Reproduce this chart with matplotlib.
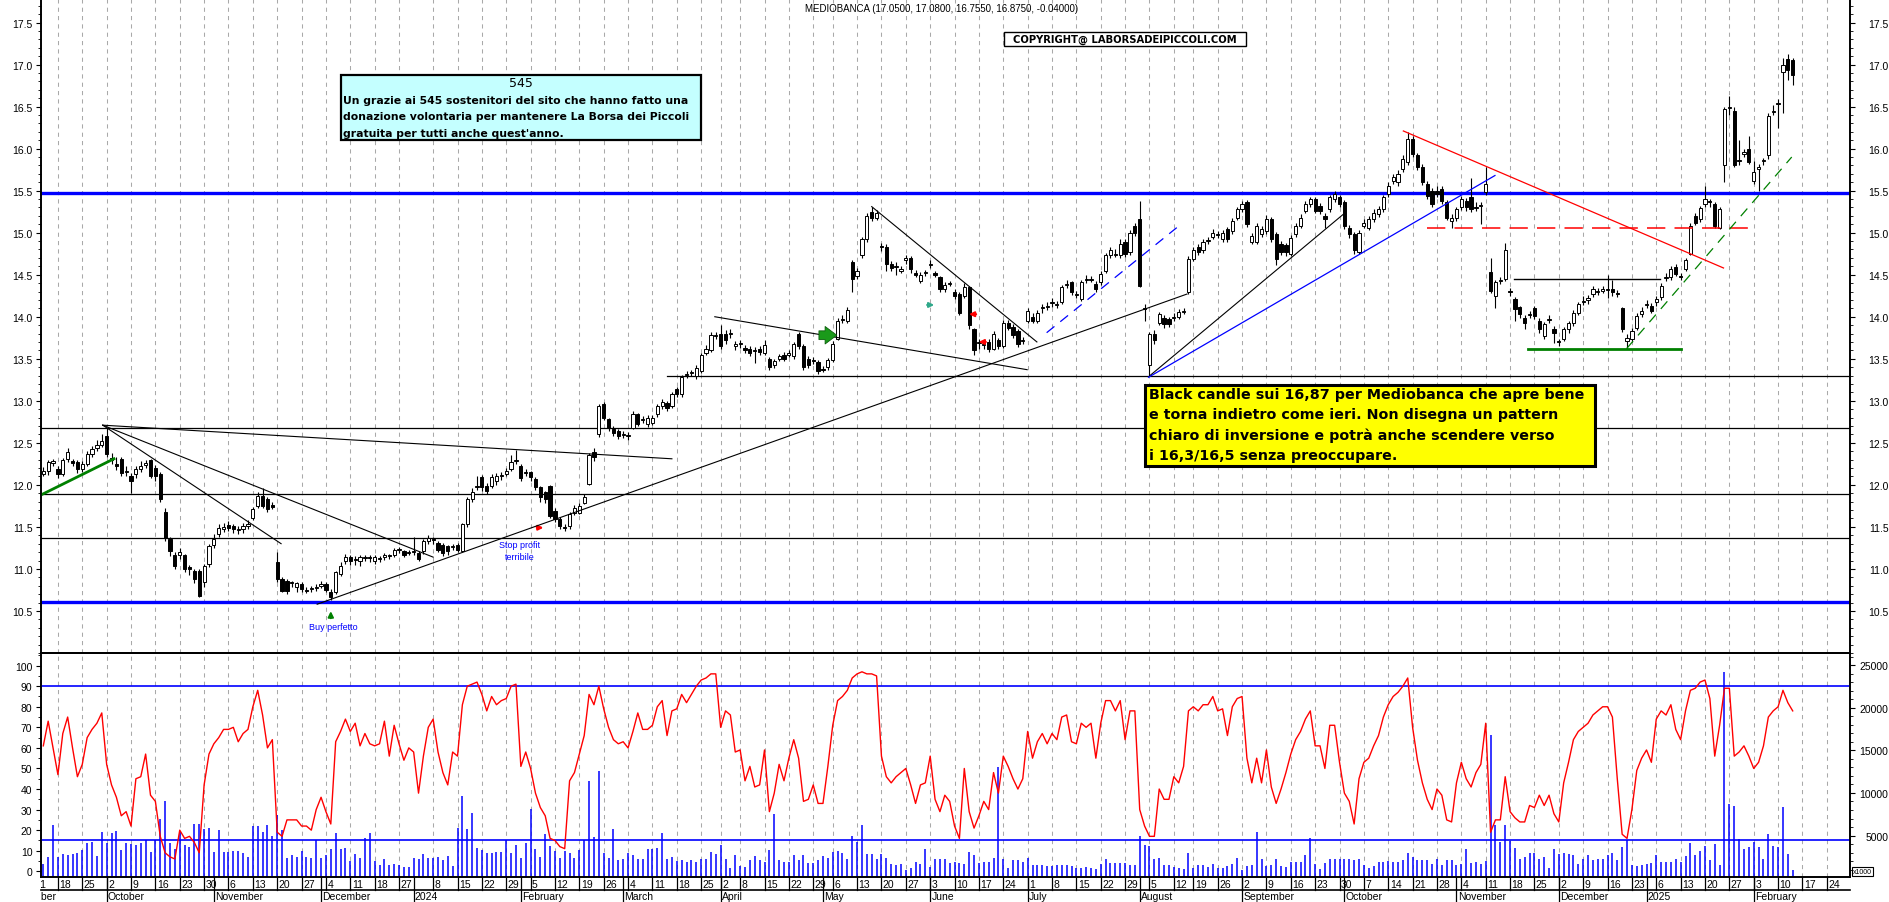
import numpy as np
import pandas as pd
import matplotlib
matplotlib.use("Agg")
import matplotlib.pyplot as plt
from matplotlib.patches import Rectangle
from matplotlib.ticker import MultipleLocator, FormatStrFormatter, FuncFormatter
from matplotlib.transforms import Bbox, TransformedBbox

plt.rcParams['font.family'] = ['Liberation Sans', 'DejaVu Sans']

'''
DATA (read off the reference chart)
'''
first_day = "2023-09-13"
holidays = ["2023-12-25", "2023-12-26", "2024-01-01", "2024-03-29", "2024-04-01",
            "2024-05-01", "2024-08-15", "2024-12-24", "2024-12-25", "2024-12-26",
            "2024-12-31", "2025-01-01"]

opens = [12.13, 12.17, 12.26, 12.19, 12.13, 12.31, 12.28, 12.27, 12.19, 12.25,
         12.37, 12.44, 12.48, 12.58, 12.32, 12.25, 12.31, 12.15, 12.10, 12.13,
         12.19, 12.24, 12.29, 12.20, 12.13, 11.68, 11.35, 11.17, 11.16, 11.16,
         11.02, 10.98, 10.98, 10.84, 11.06, 11.29, 11.41, 11.48, 11.52, 11.51,
         11.46, 11.47, 11.51, 11.61, 11.75, 11.87, 11.83, 11.76, 11.08, 10.88,
         10.86, 10.83, 10.79, 10.82, 10.75, 10.76, 10.77, 10.80, 10.82, 10.73,
         10.72, 10.94, 11.10, 11.14, 11.11, 11.10, 11.13, 11.14, 11.10, 11.12,
         11.14, 11.16, 11.17, 11.22, 11.21, 11.19, 11.20, 11.19, 11.21, 11.33,
         11.35, 11.31, 11.29, 11.27, 11.26, 11.29, 11.21, 11.53, 11.83, 11.98,
         12.09, 11.99, 11.99, 12.05, 12.10, 12.13, 12.19, 12.28, 12.23, 12.14,
         12.15, 12.07, 11.97, 11.91, 11.99, 11.69, 11.59, 11.50, 11.51, 11.67,
         11.67, 11.79, 12.01, 12.39, 12.60, 12.96, 12.78, 12.66, 12.64, 12.59,
         12.58, 12.68, 12.84, 12.77, 12.72, 12.74, 12.84, 12.94, 12.97, 12.94,
         13.14, 13.08, 13.31, 13.33, 13.29, 13.35, 13.57, 13.60, 13.77, 13.80,
         13.80, 13.79, 13.65, 13.67, 13.63, 13.62, 13.59, 13.62, 13.57, 13.50,
         13.42, 13.50, 13.55, 13.55, 13.53, 13.80, 13.65, 13.50, 13.49, 13.46,
         13.38, 13.40, 13.48, 13.74, 13.96, 13.95, 14.65, 14.48, 14.74, 14.92,
         15.25, 15.18, 14.84, 14.83, 14.63, 14.59, 14.55, 14.67, 14.70, 14.52,
         14.42, 14.52, 14.62, 14.52, 14.47, 14.33, 14.39, 14.30, 14.27, 14.25,
         14.35, 13.85, 13.69, 13.66, 13.70, 13.62, 13.72, 13.65, 13.93, 13.88,
         13.83, 13.71, 13.95, 14.00, 13.95, 14.10, 14.12, 14.16, 14.14, 14.18,
         14.38, 14.41, 14.26, 14.21, 14.44, 14.44, 14.39, 14.41, 14.55, 14.73,
         14.74, 14.73, 14.89, 14.77, 15.08, 15.16, 14.10, 13.42, 13.80, 13.93,
         13.99, 13.97, 13.99, 14.00, 14.06, 14.29, 14.69, 14.83, 14.79, 14.90,
         14.95, 14.97, 14.92, 15.04, 15.02, 15.18, 15.28, 15.36, 14.89, 14.89,
         14.98, 15.02, 15.16, 14.98, 14.87, 14.85, 14.75, 14.98, 15.08, 15.26,
         15.34, 15.40, 15.32, 15.20, 15.28, 15.40, 15.42, 15.36, 15.06, 14.98,
         14.77, 15.08, 15.06, 15.16, 15.22, 15.28, 15.46, 15.62, 15.60, 15.76,
         15.84, 16.12, 15.92, 15.78, 15.58, 15.50, 15.50, 15.52, 15.36, 15.14,
         15.18, 15.30, 15.38, 15.42, 15.30, 15.32, 15.48, 14.53, 14.25, 14.42,
         14.45, 14.30, 14.21, 14.11, 13.99, 14.02, 14.10, 13.95, 13.77, 13.96,
         13.86, 13.71, 13.74, 13.85, 13.92, 14.05, 14.18, 14.20, 14.27, 14.29,
         14.31, 14.32, 14.33, 14.28, 14.10, 13.71, 13.73, 13.87, 14.03, 14.14,
         14.13, 14.17, 14.23, 14.46, 14.47, 14.59, 14.48, 14.57, 14.75, 15.20,
         15.16, 15.34, 15.37, 15.34, 15.06, 15.80, 16.48, 16.45, 15.85, 15.94,
         15.99, 15.62, 15.76, 15.85, 15.92, 16.44, 16.53, 16.91, 17.07, 17.05]

closes = [12.17, 12.27, 12.28, 12.13, 12.29, 12.39, 12.26, 12.19, 12.25, 12.37,
          12.43, 12.47, 12.52, 12.37, 12.30, 12.23, 12.14, 12.17, 12.05, 12.19,
          12.23, 12.26, 12.11, 12.11, 11.83, 11.37, 11.21, 11.04, 11.20, 11.00,
          11.00, 10.88, 10.68, 11.04, 11.27, 11.35, 11.49, 11.50, 11.49, 11.48,
          11.47, 11.51, 11.54, 11.71, 11.87, 11.75, 11.71, 11.74, 10.88, 10.74,
          10.74, 10.84, 10.83, 10.76, 10.74, 10.77, 10.78, 10.82, 10.75, 10.66,
          10.96, 11.04, 11.14, 11.10, 11.12, 11.14, 11.14, 11.13, 11.14, 11.12,
          11.17, 11.15, 11.23, 11.23, 11.17, 11.19, 11.21, 11.12, 11.33, 11.37,
          11.34, 11.23, 11.19, 11.21, 11.27, 11.23, 11.53, 11.83, 11.91, 11.99,
          11.97, 11.93, 12.09, 12.11, 12.11, 12.17, 12.27, 12.29, 12.08, 12.15,
          12.09, 11.97, 11.85, 11.83, 11.63, 11.59, 11.51, 11.49, 11.65, 11.73,
          11.75, 11.85, 12.35, 12.33, 12.94, 12.80, 12.68, 12.62, 12.58, 12.60,
          12.59, 12.84, 12.72, 12.78, 12.80, 12.80, 12.94, 12.98, 12.91, 13.08,
          13.08, 13.28, 13.32, 13.34, 13.39, 13.55, 13.62, 13.78, 13.78, 13.65,
          13.72, 13.80, 13.68, 13.68, 13.60, 13.57, 13.60, 13.58, 13.66, 13.40,
          13.47, 13.53, 13.50, 13.57, 13.67, 13.65, 13.40, 13.42, 13.47, 13.35,
          13.37, 13.48, 13.68, 13.95, 13.97, 14.08, 14.45, 14.55, 14.92, 15.20,
          15.18, 15.23, 14.83, 14.63, 14.58, 14.60, 14.57, 14.70, 14.57, 14.50,
          14.50, 14.53, 14.63, 14.50, 14.33, 14.38, 14.40, 14.25, 14.05, 14.35,
          13.90, 13.60, 13.70, 13.67, 13.62, 13.80, 13.65, 13.93, 13.87, 13.78,
          13.67, 13.72, 14.07, 13.95, 14.05, 14.11, 14.13, 14.17, 14.15, 14.35,
          14.39, 14.29, 14.27, 14.41, 14.45, 14.45, 14.33, 14.51, 14.73, 14.79,
          14.75, 14.87, 14.75, 15.00, 15.00, 14.37, 14.09, 13.79, 13.72, 14.03,
          13.91, 13.91, 14.00, 14.06, 14.07, 14.69, 14.79, 14.77, 14.89, 14.91,
          15.00, 14.98, 15.00, 14.92, 15.14, 15.28, 15.34, 15.10, 14.96, 15.08,
          15.04, 15.16, 14.92, 14.69, 14.77, 14.77, 14.94, 15.08, 15.18, 15.34,
          15.40, 15.26, 15.26, 15.16, 15.42, 15.46, 15.34, 15.08, 14.98, 14.79,
          15.00, 15.12, 15.16, 15.24, 15.28, 15.42, 15.56, 15.66, 15.70, 15.88,
          16.12, 15.94, 15.78, 15.60, 15.44, 15.34, 15.46, 15.38, 15.18, 15.18,
          15.28, 15.40, 15.30, 15.28, 15.29, 15.33, 15.58, 14.31, 14.41, 14.43,
          14.79, 14.29, 14.09, 14.03, 13.93, 14.03, 14.01, 13.85, 13.91, 13.97,
          13.81, 13.70, 13.85, 13.92, 14.05, 14.15, 14.19, 14.22, 14.33, 14.30,
          14.33, 14.33, 14.29, 14.27, 13.85, 13.75, 13.83, 14.01, 14.07, 14.15,
          14.07, 14.21, 14.37, 14.47, 14.57, 14.51, 14.47, 14.67, 15.08, 15.12,
          15.29, 15.40, 15.36, 15.08, 15.28, 16.47, 16.49, 15.80, 15.86, 15.96,
          15.84, 15.72, 15.78, 15.86, 16.39, 16.45, 16.54, 16.99, 16.93, 16.875]

highs = [12.21, 12.30, 12.31, 12.22, 12.32, 12.44, 12.31, 12.29, 12.28, 12.40,
         12.46, 12.53, 12.60, 12.68, 12.38, 12.33, 12.33, 12.22, 12.14, 12.22,
         12.28, 12.30, 12.31, 12.24, 12.15, 11.73, 11.38, 11.20, 11.25, 11.18,
         11.05, 11.00, 11.00, 11.06, 11.30, 11.42, 11.53, 11.55, 11.57, 11.54,
         11.51, 11.55, 11.58, 11.74, 11.92, 11.96, 11.86, 11.80, 11.20, 10.90,
         10.88, 10.86, 10.85, 10.84, 10.78, 10.80, 10.82, 10.86, 10.84, 10.76,
         10.98, 11.08, 11.18, 11.16, 11.15, 11.17, 11.17, 11.17, 11.16, 11.15,
         11.19, 11.18, 11.25, 11.26, 11.23, 11.22, 11.38, 11.21, 11.35, 11.40,
         11.38, 11.33, 11.31, 11.29, 11.30, 11.31, 11.55, 11.86, 11.96, 12.10,
         12.12, 12.02, 12.13, 12.14, 12.15, 12.20, 12.35, 12.41, 12.25, 12.19,
         12.17, 12.09, 11.99, 11.93, 12.00, 11.72, 11.62, 11.53, 11.68, 11.76,
         11.78, 11.89, 12.38, 12.44, 12.96, 12.98, 12.80, 12.70, 12.67, 12.64,
         12.63, 12.88, 12.86, 12.82, 12.83, 12.83, 12.96, 13.02, 13.00, 13.10,
         13.16, 13.31, 13.35, 13.37, 13.43, 13.57, 13.66, 13.82, 13.82, 13.90,
         13.84, 13.85, 13.71, 13.72, 13.66, 13.65, 13.64, 13.65, 13.72, 13.52,
         13.50, 13.56, 13.58, 13.60, 13.70, 13.82, 13.67, 13.53, 13.52, 13.48,
         13.41, 13.51, 13.71, 13.98, 14.02, 14.11, 14.67, 14.58, 14.95, 15.23,
         15.30, 15.27, 14.88, 14.86, 14.66, 14.65, 14.60, 14.74, 14.72, 14.56,
         14.53, 14.56, 14.67, 14.54, 14.49, 14.41, 14.43, 14.33, 14.29, 14.40,
         14.37, 13.87, 13.74, 13.71, 13.73, 13.83, 13.75, 13.96, 13.96, 13.91,
         13.85, 13.76, 14.10, 14.05, 14.08, 14.15, 14.17, 14.22, 14.19, 14.38,
         14.44, 14.43, 14.31, 14.44, 14.50, 14.49, 14.42, 14.55, 14.76, 14.83,
         14.80, 14.92, 14.92, 15.03, 15.12, 15.38, 14.15, 13.82, 13.84, 14.06,
         14.02, 14.00, 14.04, 14.09, 14.10, 14.72, 14.83, 14.86, 14.92, 14.95,
         15.04, 15.02, 15.03, 15.07, 15.17, 15.31, 15.38, 15.39, 15.00, 15.11,
         15.08, 15.21, 15.19, 15.01, 14.90, 14.88, 14.97, 15.12, 15.22, 15.38,
         15.43, 15.43, 15.35, 15.24, 15.45, 15.50, 15.45, 15.39, 15.09, 15.01,
         15.03, 15.16, 15.20, 15.28, 15.32, 15.45, 15.60, 15.70, 15.74, 15.92,
         16.20, 16.15, 15.95, 15.82, 15.62, 15.53, 15.55, 15.55, 15.39, 15.22,
         15.31, 15.44, 15.41, 15.65, 15.36, 15.36, 15.78, 14.70, 14.44, 14.47,
         14.88, 14.34, 14.23, 14.13, 14.02, 14.07, 14.13, 13.98, 13.94, 14.02,
         13.89, 13.74, 13.88, 13.95, 14.08, 14.18, 14.25, 14.26, 14.36, 14.34,
         14.37, 14.50, 14.44, 14.32, 14.12, 13.80, 13.87, 14.04, 14.11, 14.20,
         14.16, 14.25, 14.40, 14.52, 14.60, 14.63, 14.52, 14.70, 15.11, 15.23,
         15.32, 15.55, 15.40, 15.37, 15.31, 16.49, 16.63, 16.50, 16.10, 16.00,
         16.15, 15.85, 15.82, 15.89, 16.42, 16.52, 16.59, 17.08, 17.13, 17.08]

lows = [12.10, 12.12, 12.22, 12.08, 12.11, 12.27, 12.22, 12.14, 12.15, 12.22,
        12.33, 12.40, 12.45, 12.33, 12.25, 12.18, 12.10, 12.10, 11.90, 12.08,
        12.15, 12.20, 12.08, 12.05, 11.80, 11.33, 11.15, 11.00, 11.12, 10.96,
        10.93, 10.83, 10.66, 10.78, 11.02, 11.25, 11.38, 11.44, 11.45, 11.43,
        11.41, 11.43, 11.48, 11.58, 11.72, 11.73, 11.68, 11.71, 10.85, 10.72,
        10.70, 10.78, 10.73, 10.73, 10.71, 10.73, 10.74, 10.77, 10.72, 10.63,
        10.70, 10.92, 11.06, 11.05, 11.05, 11.04, 11.10, 11.08, 11.06, 11.08,
        11.11, 11.12, 11.14, 11.19, 11.14, 11.16, 11.17, 11.09, 11.18, 11.30,
        11.30, 11.20, 11.15, 11.17, 11.22, 11.20, 11.20, 11.50, 11.80, 11.94,
        11.93, 11.89, 11.96, 12.00, 12.06, 12.10, 12.16, 12.25, 12.05, 12.10,
        12.05, 11.94, 11.80, 11.79, 11.60, 11.56, 11.48, 11.45, 11.48, 11.64,
        11.65, 11.77, 12.00, 12.28, 12.57, 12.77, 12.64, 12.58, 12.54, 12.56,
        12.53, 12.66, 12.70, 12.74, 12.69, 12.71, 12.81, 12.90, 12.88, 12.92,
        13.05, 13.05, 13.27, 13.30, 13.26, 13.33, 13.54, 13.58, 13.73, 13.62,
        13.68, 13.75, 13.60, 13.63, 13.57, 13.53, 13.45, 13.55, 13.54, 13.37,
        13.39, 13.47, 13.47, 13.52, 13.50, 13.62, 13.37, 13.39, 13.44, 13.32,
        13.34, 13.37, 13.46, 13.72, 13.92, 13.93, 14.30, 14.45, 14.70, 14.89,
        15.14, 15.15, 14.78, 14.55, 14.55, 14.50, 14.52, 14.63, 14.52, 14.47,
        14.40, 14.49, 14.58, 14.47, 14.30, 14.30, 14.36, 14.21, 14.02, 14.22,
        13.86, 13.55, 13.62, 13.62, 13.58, 13.60, 13.62, 13.63, 13.84, 13.75,
        13.64, 13.68, 13.93, 13.92, 13.92, 14.05, 14.08, 14.12, 14.10, 14.15,
        14.34, 14.26, 14.22, 14.19, 14.40, 14.41, 14.30, 14.38, 14.52, 14.70,
        14.71, 14.70, 14.71, 14.74, 14.96, 14.35, 13.95, 13.29, 13.68, 13.90,
        13.87, 13.88, 13.95, 13.97, 14.03, 14.27, 14.66, 14.74, 14.76, 14.87,
        14.92, 14.94, 14.89, 14.89, 14.99, 15.15, 15.25, 15.07, 14.86, 14.86,
        14.95, 14.99, 14.89, 14.62, 14.74, 14.72, 14.72, 14.95, 15.05, 15.23,
        15.31, 15.23, 15.22, 15.05, 15.25, 15.37, 15.31, 15.04, 14.94, 14.75,
        14.75, 15.05, 15.03, 15.13, 15.19, 15.25, 15.43, 15.58, 15.56, 15.72,
        15.80, 15.90, 15.74, 15.57, 15.40, 15.30, 15.42, 15.34, 15.15, 15.05,
        15.14, 15.27, 15.26, 15.25, 15.26, 15.10, 15.45, 14.28, 14.10, 14.39,
        14.42, 14.25, 13.95, 13.99, 13.85, 13.98, 13.97, 13.81, 13.73, 13.92,
        13.69, 13.65, 13.71, 13.81, 13.89, 14.02, 14.14, 14.15, 14.24, 14.26,
        14.28, 14.22, 14.25, 14.23, 13.82, 13.62, 13.70, 13.84, 14.00, 14.10,
        14.04, 14.13, 14.20, 14.42, 14.44, 14.48, 14.44, 14.54, 14.73, 15.09,
        15.13, 15.31, 15.30, 15.05, 15.04, 15.60, 16.40, 15.78, 15.80, 15.90,
        15.82, 15.58, 15.50, 15.80, 15.88, 16.40, 16.25, 16.42, 16.82, 16.755]

# oscillator (left scale of the lower panel)
osc = [61, 73, 60, 47, 67, 75, 60, 46, 52, 65, 69, 72, 77, 52, 42, 36, 27, 29, 22, 45,
       46, 57, 37, 34, 17, 9, 7, 6, 20, 16, 17, 14, 9, 42, 57, 62, 65, 69, 69, 70,
       63, 67, 69, 80, 88, 76, 60, 64, 19, 17, 25, 25, 25, 22, 22, 20, 30, 36, 29, 23,
       63, 68, 74, 68, 72, 61, 67, 62, 61, 62, 73, 56, 71, 62, 54, 60, 58, 38, 56, 70,
       74, 58, 48, 42, 58, 56, 81, 90, 91, 92, 86, 78, 85, 81, 83, 84, 90, 91, 51, 58,
       50, 38, 31, 27, 16, 15, 12, 11, 44, 48, 57, 66, 86, 81, 90, 79, 70, 64, 62, 63,
       60, 68, 77, 69, 69, 71, 80, 83, 66, 78, 79, 86, 82, 86, 90,
       93, 94, 96, 96, 70, 78, 76, 58, 59, 44, 51, 41, 42, 59, 29, 38, 52, 44, 55, 64,
       55, 34, 35, 42, 33, 33, 51, 71, 83, 85, 88, 94, 96, 97, 96, 96, 95, 56, 46, 43,
       46, 48, 50, 42, 33, 42, 43, 56, 35, 29, 37, 34, 22, 16, 50, 29, 21, 27, 34, 30,
       48, 38, 56, 51, 45, 40, 45, 68, 55, 63, 67, 62, 67, 64, 75, 76, 63, 62, 72, 70,
       72, 55, 72, 83, 83, 78, 83, 64, 78, 78, 30, 22, 17, 17, 40, 35, 35, 46, 43, 51,
       78, 80, 78, 81, 81, 85, 78, 79, 66, 80, 84, 85, 55, 43, 55, 43, 59, 41, 33, 40,
       48, 57, 64, 68, 74, 78, 61, 61, 50, 71, 71, 53, 38, 34, 23, 45, 53, 55, 61, 66,
       75, 81, 85, 87,
       90, 94, 70, 54, 43, 35, 30, 40, 37, 25, 24, 43, 53, 45, 41, 48, 52, 72, 19, 25,
       25, 46, 29, 26, 24, 24, 32, 31, 37, 32, 37, 28, 24, 43, 53, 64, 68, 70, 72, 76,
       78, 80, 80, 75, 45, 18, 16, 30, 49, 55, 59, 53, 74, 78, 76, 81, 69, 64, 78, 88,
       89, 92, 93, 84, 56, 71, 89, 89, 56, 58, 61, 56, 50, 53, 61, 75, 78, 80, 88, 82,
       78]

# volume, thousands of the right-hand scale units (axis labelled x1000)
vol_k = [1.7, 2.5, 6.2, 2.5, 2.8, 2.7, 2.8, 3.0, 3.3, 4.1, 4.3, 2.6, 5.4, 4.1, 5.3, 5.5, 3.3, 4.1, 4.0, 3.9,
         4.1, 4.5, 3.1, 4.5, 7.0, 9.0, 4.1, 3.4, 5.5, 3.9, 3.6, 6.4, 6.4, 5.8, 5.9, 3.1, 5.6, 3.1, 3.1, 3.2,
         3.2, 3.0, 2.5, 6.1, 6.1, 5.4, 6.2, 5.0, 7.4, 5.6, 2.4, 2.7, 2.5, 3.2, 2.5, 2.4, 4.5, 2.4, 2.7, 3.4,
         5.3, 3.4, 3.5, 2.0, 2.8, 2.4, 4.7, 5.3, 2.0, 1.6, 2.2, 1.5, 1.7, 1.6, 1.3, 1.3, 2.4, 2.3, 2.8, 2.4,
         2.4, 2.5, 2.1, 2.6, 1.4, 5.9, 9.7, 5.8, 7.6, 3.5, 3.3, 3.0, 2.9, 3.1, 3.1, 4.5, 3.0, 3.9, 2.4, 4.1,
         8.1, 3.4, 2.5, 5.2, 3.8, 3.2, 2.4, 3.2, 3.0, 2.4, 3.3, 4.5, 11.4, 4.8, 12.6, 3.0, 2.4, 5.8, 2.1, 2.2,
         3.0, 2.7, 2.3, 2.2, 3.4, 3.4, 3.5, 5.3, 2.2, 2.5, 2.0, 2.1, 1.9, 2.1, 1.9,
         2.2, 2.2, 3.1, 2.8, 3.9, 2.2, 1.2, 2.7, 1.4, 1.3, 2.1, 2.6, 2.1, 1.9, 3.3, 7.5, 2.1, 1.9, 1.9, 2.7,
         2.1, 2.7, 1.8, 1.8, 2.1, 2.6, 2.4, 3.1, 3.2, 3.0, 2.2, 5.0, 4.2, 6.2, 2.8, 2.8, 2.2, 2.8, 2.4, 1.7,
         1.5, 1.7, 1.0, 1.2, 1.9, 1.7, 3.4, 1.3, 2.2, 2.3, 2.2, 1.8, 1.9, 1.8, 1.7, 3.1, 2.7, 1.8, 1.9, 1.9,
         2.4, 13.0, 2.2, 1.2, 2.1, 2.1, 1.9, 2.4, 1.5, 1.5, 1.5, 1.4, 1.4, 1.5, 1.6, 1.6, 1.4, 1.2, 1.2, 1.3,
         1.2, 1.1, 1.7, 2.2, 1.8, 1.8, 1.8, 1.8, 1.5, 1.5, 5.0, 3.9, 3.8, 2.2, 2.4, 1.5, 1.5, 1.3, 1.2, 1.1,
         3.0, 1.2, 1.5, 1.5, 1.3, 1.7, 1.2, 1.2, 1.4, 1.7, 2.4, 1.0, 1.4, 1.5, 5.4, 2.2, 1.4, 1.5, 2.2, 1.4,
         1.3, 1.9, 1.9, 1.9, 2.7, 4.7, 1.7, 1.1, 1.8, 2.2, 2.2, 2.2, 2.2, 2.2, 2.1, 2.3, 1.5, 1.2, 1.4, 1.9,
         1.9, 2.0, 1.9, 1.9,
         2.1, 3.0, 2.5, 2.1, 2.1, 2.1, 1.7, 2.2, 1.6, 2.1, 2.1, 1.6, 1.7, 3.4, 1.8, 1.9, 1.7, 2.0, 16.8, 6.2,
         4.3, 6.2, 4.4, 3.5, 2.2, 2.5, 3.0, 3.0, 2.2, 2.5, 1.2, 3.4, 2.8, 3.0, 2.8, 2.7, 1.7, 2.2, 2.7, 2.1,
         2.2, 2.3, 2.7, 3.0, 2.1, 3.6, 4.5, 1.5, 1.4, 1.6, 1.7, 1.8, 2.7, 1.9, 1.9, 1.9, 2.3, 1.9, 2.6, 4.1,
         2.7, 3.2, 3.8, 2.1, 4.0, 1.6, 24.2, 8.7, 8.5, 4.6, 3.4, 3.6, 4.3, 3.6, 2.3, 5.2, 3.8, 3.6, 8.3, 2.8,
         1.0]

# levels and drawn trend lines: (bar index, price)
blue_levels = [15.47, 10.61]
black_levels = [12.68, 11.89, 11.37]
level_1330 = (128.0, 13.30)
black_trends = [((12.2, 12.71), (129.0, 12.31)),
                ((12.2, 12.71), (48.8, 11.30)),
                ((12.2, 12.71), (80.0, 11.14)),
                ((56.2, 10.58), (234.7, 14.27)),
                ((137.8, 14.00), (201.9, 13.37)),
                ((170.0, 15.31), (203.9, 13.70)),
                ((227.1, 13.30), (266.8, 15.22))]
blue_trend = ((226.8, 13.28), (297.9, 15.68))
blue_dash_trend = ((205.9, 13.81), (232.6, 15.06))
red_trend = ((279.1, 16.21), (344.8, 14.58))
red_dash_level = (283.9, 349.9, 15.05)
green_level = (304.7, 336.1, 13.62)
black_short_level = (301.9, 331.8, 14.45)
green_dash_trend = ((324.9, 13.62), (358.8, 15.90))
green_thick_trend = ((-0.47, 11.88), (14.5, 12.31))
osc_levels = [90, 15]

title_txt = "MEDIOBANCA (17.0500, 17.0800, 16.7550, 16.8750, -0.04000)"
copyright_txt = "COPYRIGHT@ LABORSADEIPICCOLI.COM"
cyan_lines = ["Un grazie ai 545 sostenitori del sito che hanno fatto una",
              "donazione volontaria per mantenere La Borsa dei Piccoli",
              "gratuita per tutti anche quest'anno."]
yellow_lines = ["Black candle sui 16,87 per Mediobanca che apre bene",
                "e torna indietro come ieri. Non disegna un pattern",
                "chiaro di inversione e potrà anche scendere verso",
                "i 16,3/16,5 senza preoccupare."]
month_names = ["", "January", "February", "March", "April", "May", "June", "July",
               "August", "September", "October", "November", "December"]

'''
CALENDAR
'''
cal = pd.bdate_range("2023-08-28", "2025-03-14")
cal = cal[~cal.isin(pd.to_datetime(holidays))]
pos = np.arange(len(cal)) - int(np.where(cal == pd.Timestamp(first_day))[0][0])
iso = cal.isocalendar()
wk = list(zip(iso["year"].values, iso["week"].values))
new_year_weeks = set(wk[k] for k in range(1, len(cal)) if cal[k].year != cal[k - 1].year)
week_starts = [k for k in range(len(cal))
               if (k == 0 or wk[k] != wk[k - 1]) and wk[k] not in new_year_weeks]
month_starts = [k for k in range(1, len(cal)) if cal[k].month != cal[k - 1].month]

'''
FIGURE
'''
W, H = 1890.0, 903.0
L, R = 41.0, 1850.0
x0_px, dx_px = 43.3, 4.873
xmin, xmax = (L - x0_px) / dx_px, (R - x0_px) / dx_px

fig = plt.figure(figsize=(W / 100, H / 100), dpi=100)
ax = fig.add_axes([L / W, 1 - 654.3 / H, (R - L) / W, 654.3 / H])
axr = ax.twinx()
axl = fig.add_axes([L / W, 1 - 878.3 / H, (R - L) / W, (878.3 - 654.3) / H], sharex=ax)
axv = axl.twinx()
axl.set_zorder(axv.get_zorder() + 1)
axl.patch.set_visible(False)

grid_kw = dict(color="#a9a9a9", lw=0.75, ls=(0, (4, 4)), zorder=0)
for k in week_starts:
    p = pos[k]
    if xmin <= p <= xmax:
        ax.axvline(p, **grid_kw)
        axv.axvline(p, **grid_kw)

# price panel
x = np.arange(len(closes))
o = np.array(opens); c = np.array(closes)
hi = np.array(highs); lo = np.array(lows)
ax.vlines(x, lo, hi, color="black", lw=0.8, zorder=3)
up = c >= o
body_h = np.maximum(np.abs(c - o), 0.012)
bottom = np.minimum(o, c)
ax.bar(x[up], body_h[up], bottom=bottom[up], width=0.66, color="white",
       edgecolor="black", lw=0.7, zorder=4)
ax.bar(x[~up], body_h[~up], bottom=bottom[~up], width=0.66, color="black",
       edgecolor="black", lw=0.7, zorder=4)

for lvl in blue_levels:
    ax.axhline(lvl, color="#0000ff", lw=2.4, zorder=2)
for lvl in black_levels:
    ax.axhline(lvl, color="black", lw=0.9, zorder=2)
ax.plot([level_1330[0], xmax], [level_1330[1]] * 2, color="black", lw=0.9, zorder=2)

for (a, b) in black_trends:
    ax.plot([a[0], b[0]], [a[1], b[1]], color="black", lw=0.8, zorder=5)
ax.plot(*zip(*blue_trend), color="#0000ff", lw=0.9, zorder=5)
ax.plot(*zip(*blue_dash_trend), color="#0000ff", lw=0.9, ls=(0, (8, 6)), zorder=5)
ax.plot(*zip(*red_trend), color="red", lw=0.9, zorder=5)
ax.plot(red_dash_level[:2], [red_dash_level[2]] * 2, color="red", lw=1.1,
        ls=(0, (12, 6)), zorder=5)
ax.plot(green_level[:2], [green_level[2]] * 2, color="#008000", lw=2.0, zorder=5)
ax.plot(black_short_level[:2], [black_short_level[2]] * 2, color="black", lw=1.0, zorder=5)
ax.plot(*zip(*green_dash_trend), color="#008000", lw=0.9, ls=(0, (8, 6)), zorder=5)
ax.plot(*zip(*green_thick_trend), color="#008000", lw=2.0, zorder=5)

# arrows and notes
ax.annotate("", xy=(59.0, 10.53), xytext=(59.0, 10.38),
            arrowprops=dict(arrowstyle="-|>", color="#008000", lw=1.4, mutation_scale=8))
ax.text(59.5, 10.32, "Buy perfetto", color="#0000ff", fontsize=6.5, ha="center", va="center")
ax.text(97.8, 11.29, "Stop profit", color="#0000ff", fontsize=6.5, ha="center", va="center")
ax.text(97.8, 11.15, "terribile", color="#0000ff", fontsize=6.5, ha="center", va="center")
ax.annotate("", xy=(103.2, 11.49), xytext=(100.7, 11.49),
            arrowprops=dict(arrowstyle="-|>", color="red", lw=1.5, mutation_scale=7))
ax.annotate("", xy=(163.4, 13.78), xytext=(158.6, 13.78),
            arrowprops=dict(arrowstyle="simple,head_width=0.9,head_length=0.6,tail_width=0.45",
                            fc="#1a9a1a", ec="#0b5e0b", lw=0.6, mutation_scale=14), zorder=6)
ax.annotate("", xy=(183.4, 14.14), xytext=(180.8, 14.14),
            arrowprops=dict(arrowstyle="-|>", color="#2fa88a", lw=1.5, mutation_scale=7))
ax.annotate("", xy=(189.4, 14.03), xytext=(192.0, 14.03),
            arrowprops=dict(arrowstyle="-|>", color="red", lw=1.5, mutation_scale=7), zorder=6)
ax.annotate("", xy=(191.4, 13.70), xytext=(194.0, 13.70),
            arrowprops=dict(arrowstyle="-|>", color="red", lw=1.5, mutation_scale=7), zorder=6)

ax.set_xlim(xmin, xmax)
ax.set_ylim(9.996, 17.78)
axr.set_ylim(9.996, 17.78)
price_ticks = np.arange(10.5, 17.51, 0.5)
for a_ in (ax, axr):
    a_.set_yticks(price_ticks)
    a_.yaxis.set_minor_locator(MultipleLocator(0.1))
    a_.yaxis.set_major_formatter(FormatStrFormatter("%.1f"))
ax.tick_params(axis="y", which="both", left=True, right=False, labelleft=True,
               labelright=False, direction="out", labelsize=7.5)
ax.tick_params(axis="y", which="major", length=3.6, pad=2.6)
ax.tick_params(axis="y", which="minor", length=2.0)
axr.tick_params(axis="y", which="both", right=True, left=False, labelright=True,
                direction="out", labelsize=7.5)
axr.tick_params(axis="y", which="major", length=3.6, pad=24.0)
axr.tick_params(axis="y", which="minor", length=2.0)
for t in axr.yaxis.get_major_ticks():
    t.label2.set_horizontalalignment("right")
for a_ in (ax, axr):
    a_.tick_params(axis="x", which="both", bottom=False, top=False, labelbottom=False)
    a_.spines["top"].set_visible(False)
    for s in ("left", "right", "bottom"):
        a_.spines[s].set_linewidth(1.2)

# lower panel
axl.plot(x, osc, color="red", lw=1.0, zorder=3)
for lvl in osc_levels:
    axl.axhline(lvl, color="#0000ff", lw=1.2, zorder=2)
axv.vlines(x, 0, vol_k, color="#0000ff", lw=1.1, zorder=2)
axl.set_ylim(-2.92, 106.0)
axv.set_ylim(0.1, 26.4)
axl.set_yticks(np.arange(0, 101, 10))
axl.yaxis.set_minor_locator(MultipleLocator(5))
axl.tick_params(axis="y", which="both", direction="out", labelsize=7.5)
axl.tick_params(axis="y", which="major", length=3.6, pad=2.6)
axl.tick_params(axis="y", which="minor", length=2.0)
axv.set_yticks(np.arange(5, 26, 5))
axv.yaxis.set_minor_locator(MultipleLocator(1))
axv.yaxis.set_major_formatter(FuncFormatter(lambda v, p: f"{int(round(v * 1000))}"))
axv.tick_params(axis="y", which="both", direction="out", labelsize=7.5)
axv.tick_params(axis="y", which="major", length=3.6, pad=24.0)
axv.tick_params(axis="y", which="minor", length=2.0)
for t in axv.yaxis.get_major_ticks():
    t.label2.set_horizontalalignment("right")
for a_ in (axl, axv):
    a_.tick_params(axis="x", which="both", bottom=False, top=False, labelbottom=False)
    for s in a_.spines.values():
        s.set_linewidth(1.2)
axl.set_xlim(xmin, xmax)

# date rows under the lower panel
xt = axl.get_xaxis_transform()
row1, row2 = -0.0554, -0.112
axl.plot([0, 1], [row1, row1], transform=axl.transAxes, color="black", lw=1.2, clip_on=False)
clip = TransformedBbox(Bbox([[L / W, 0], [R / W, 1]]), fig.transFigure)
for k in week_starts:
    p = pos[k]
    if xmin - 3 <= p <= xmax:
        if p >= xmin:
            axl.plot([p, p], [0, row1], transform=xt, color="black", lw=0.9, clip_on=False)
        t = axl.text(p + 0.3, -0.028, str(cal[k].day), transform=xt, fontsize=7.5,
                     ha="left", va="center", clip_on=True)
        t.set_clip_box(clip)
for k in month_starts:
    p = pos[k]
    if p < xmin - 10 or p > xmax:
        continue
    if p >= xmin:
        axl.plot([p, p], [0, row2], transform=xt, color="black", lw=0.9, clip_on=False)
    lbl = str(cal[k].year) if cal[k].month == 1 else month_names[cal[k].month]
    t = axl.text(p + 0.25, -0.084, lbl, transform=xt, fontsize=7.5,
                 ha="left", va="center", clip_on=True)
    t.set_clip_box(clip)

# figure level boxes and texts (pixel positions)
def fx(px):
    return px / W

def fy(py):
    return 1 - py / H

fig.text(fx(805), fy(8.5), title_txt, fontsize=7, ha="left", va="center")
fig.add_artist(Rectangle((fx(1003.6), fy(46.7)), (1245.5 - 1003.6) / W, 14 / H,
                         transform=fig.transFigure, fc="white", ec="black", lw=1.0, zorder=10))
fig.text(fx(1124.5), fy(39.8), copyright_txt, fontsize=7.2, fontweight="bold",
         family="DejaVu Sans", ha="center", va="center", zorder=11)

fig.add_artist(Rectangle((fx(341.5), fy(141)), (701 - 341.5) / W, 65 / H,
                         transform=fig.transFigure, fc="#c4ffff", ec="black", lw=1.6, zorder=10))
fig.text(fx(521), fy(84), "545", fontsize=9, family="DejaVu Sans", ha="center",
         va="center", zorder=11)
for n, line in enumerate(cyan_lines):
    fig.text(fx(343.5), fy(100.7 + 16.5 * n), line, fontsize=7.8, fontweight="bold",
             family="DejaVu Sans", ha="left", va="center", zorder=11)

fig.add_artist(Rectangle((fx(1145), fy(466.7)), (1595 - 1145) / W, 81 / H,
                         transform=fig.transFigure, fc="#ffff00", ec="black", lw=2.2, zorder=10))
for n, line in enumerate(yellow_lines):
    fig.text(fx(1149), fy(395 + 20.5 * n), line, fontsize=10.3, fontweight="bold",
             family="DejaVu Sans", ha="left", va="center", zorder=11)

fig.add_artist(Rectangle((fx(1851.7), fy(877.3)), 21.6 / W, 9.6 / H,
                         transform=fig.transFigure, fc="white", ec="black", lw=0.8, zorder=10))
fig.text(fx(1862.5), fy(872.5), "x1000", fontsize=5, ha="center", va="center", zorder=11)

fig.savefig("out.png", dpi=100)
print("Done")
